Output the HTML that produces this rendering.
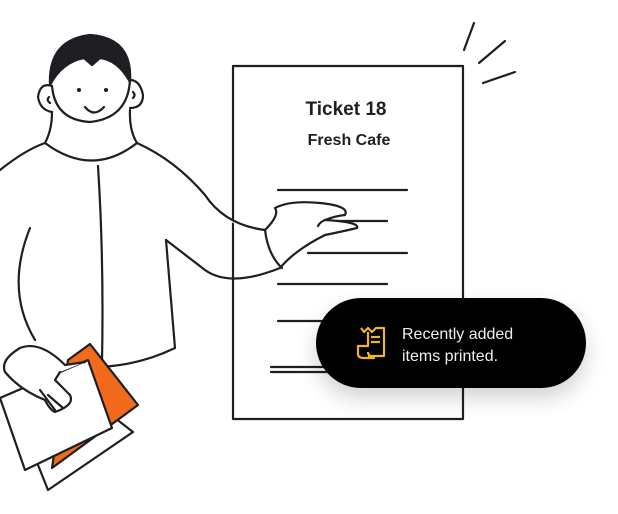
<!DOCTYPE html>
<html><head><style>
body{margin:0;background:#fff;width:618px;height:514px;overflow:hidden;position:relative;font-family:"Liberation Sans",sans-serif}
svg{position:absolute;left:0;top:0}
.pill{position:absolute;left:316px;top:298px;width:270px;height:90px;border-radius:45px;background:#000;box-shadow:0 10px 22px rgba(0,0,0,.18)}
.txt{position:absolute;left:402px;top:324px;color:#eee;font-size:16px;line-height:22px}
</style></head><body>
<svg width="618" height="514" viewBox="0 0 618 514" fill="none" stroke="#1d1f22" stroke-width="2.2" stroke-linecap="round" stroke-linejoin="round">
<rect x="233" y="66" width="230" height="353" fill="#fff"/>
<line x1="278" y1="190" x2="407" y2="190"/>
<line x1="320" y1="221" x2="387" y2="221"/>
<line x1="308" y1="253" x2="407" y2="253"/>
<line x1="278" y1="284" x2="387" y2="284"/>
<line x1="278" y1="321" x2="330" y2="321"/>
<line x1="271" y1="367" x2="330" y2="367"/>
<line x1="271" y1="372" x2="330" y2="372"/>
<line x1="474" y1="23" x2="464" y2="50"/>
<line x1="505" y1="41" x2="479" y2="63"/>
<line x1="515" y1="72" x2="483" y2="83"/>
<path d="M0 170 Q25 150 45 143 Q92 178 137 143 Q175 160 205 195 Q225 225 265 230" fill="#fff"/>
<path d="M166 240 L205 270 Q230 288 280 268"/>
<path d="M98 166 Q104 260 102 362"/>
<path d="M30 228 Q5 290 35 340"/>
<path d="M166 240 L175 348 Q140 365 100 367"/>
<path d="M265 230 Q280 215 275 208 Q290 200 320 203 Q350 206 345 215 Q335 216 325 220 Q360 222 357 228 Q340 232 325 235 Q295 250 280 268" fill="#fff"/>
<path d="M265 230 Q268 255 282 268" />
<path d="M325 220 Q320 222 318 226"/>
<path d="M45 143 Q52 130 52 112"/>
<path d="M137 143 Q129 130 130 110"/>
<path d="M52 112 Q40 110 38 97 Q40 82 52 86 M130 108 Q143 108 143 95 Q140 80 130 80"/>
<path d="M49 97 Q46 100 50 103 M133 92 Q136 95 133 98"/>
<path d="M52 86 Q55 120 90 122 Q128 118 130 80" fill="#fff"/>
<path d="M50 85 Q48 40 90 35 Q133 38 130 82 Q118 60 100 58 L92 65 L84 58 Q62 62 50 85Z" fill="#1d1f22"/>
<circle cx="79" cy="90" r="2" fill="#1d1f22" stroke="none"/>
<circle cx="106" cy="90" r="2" fill="#1d1f22" stroke="none"/>
<path d="M85 107 Q94 118 104 107"/>
<path d="M30 445 L48 490 L133 432 L115 418Z" fill="#fff"/>
<path d="M68 360 L90 344 L138 405 L52 468Z" fill="#f26b1d"/>
<path d="M0 398 L25 470 L112 428 L88 360Z" fill="#fff"/>
<path d="M85 362 L65 365 Q40 340 20 348 Q0 360 5 372 Q20 390 45 400 Q50 410 55 412 Q75 405 70 395 Q60 385 55 380 L60 372" fill="#fff"/>
<path d="M40 390 L55 410 M48 395 L63 408"/>
</svg>
<div class="pill"></div>
<svg width="618" height="514" fill="none" stroke="#f0b429" stroke-width="2.2" stroke-linejoin="round">
<path d="M361 328 L364 332 L368 328 L372 332 L376 328 L384 328 L384 356 L368 356"/>
<path d="M368 332 L368 346 L358 346 L358 354 Q358 358 364 358 L374 358 Q368 356 368 352"/>
<line x1="371" y1="337" x2="380" y2="337"/>
<line x1="371" y1="342" x2="380" y2="342"/>
</svg>
<div class="txt">Recently added<br>items printed.</div>
<div style="position:absolute;left:286px;top:99px;width:120px;text-align:center;font-weight:bold;font-size:19px;color:#1d1f22">Ticket 18</div>
<div style="position:absolute;left:289px;top:132px;width:120px;text-align:center;font-weight:bold;font-size:16px;color:#1d1f22">Fresh Cafe</div>
</body></html>
